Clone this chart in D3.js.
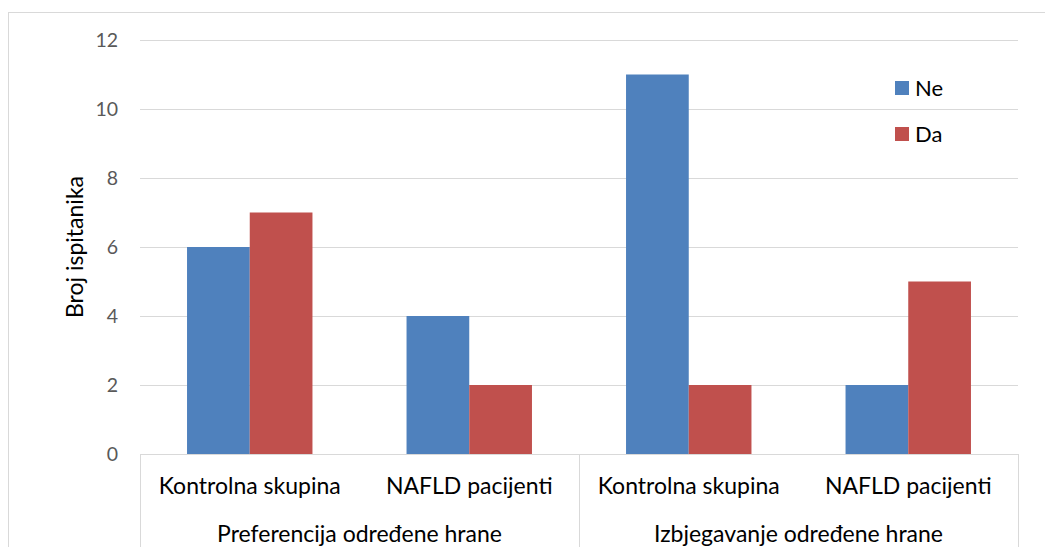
<!DOCTYPE html>
<html><head><meta charset="utf-8">
<script src="https://cdn.jsdelivr.net/npm/d3@7"></script>
<style>body{margin:0;background:#fff;} text{font-family:Lato,"Open Sans",sans-serif;}</style>
</head><body>
<svg id="c" width="1045" height="547"></svg>
<script>
const groups = ["Preferencija određene hrane", "Izbjegavanje određene hrane"];
const subcategories = ["Kontrolna skupina", "NAFLD pacijenti"];
const seriesNames = ["Ne", "Da"];
const neValues = [6, 4, 11, 2];
const daValues = [7, 2, 2, 5];
const yTicks = [0, 2, 4, 6, 8, 10, 12];
const yTitle = "Broj ispitanika";
const colors = ["#4F81BD", "#C0504D"];

const svg = d3.select("#c");
const L = 140, R = 1018, T = 40, B = 454;
const cats = [];
groups.forEach((g, gi) => subcategories.forEach((s, si) => cats.push({g, s, key: gi + "-" + si})));
const data = cats.map((c, i) => ({...c, vals: [neValues[i], daValues[i]]}));

const x = d3.scaleBand().domain(cats.map(c => c.key)).range([L, R]);
const bw = x.bandwidth() / 3.5;
const xs = d3.scaleBand().domain(seriesNames).range([0, 2 * bw]);
const y = d3.scaleLinear().domain([0, 12]).range([B, T]);

// outer border
svg.append("rect").attr("x", 8.5).attr("y", 12.5).attr("width", 1045).attr("height", 600)
  .attr("fill", "none").attr("stroke", "#D9D9D9").attr("stroke-width", 1);

// gridlines
svg.append("g").selectAll("line").data(yTicks.filter(t => t > 0)).join("line")
  .attr("x1", L).attr("x2", R).attr("y1", d => Math.round(y(d)) + 0.5).attr("y2", d => Math.round(y(d)) + 0.5)
  .attr("stroke", "#D9D9D9").attr("stroke-width", 1);

// y axis labels
const ya = svg.append("g").attr("transform", `translate(${L},0)`)
  .call(d3.axisLeft(y).tickValues(yTicks).tickSize(0).tickPadding(22));
ya.select(".domain").remove();
ya.selectAll("text").attr("fill", "#595959").style("font-size", "19.5px").style("font-family", "Lato, 'Open Sans', sans-serif");

// bars
const gBars = svg.append("g");
data.forEach(d => {
  const x0 = x(d.key) + (x.bandwidth() - 2 * bw) / 2;
  d.vals.forEach((v, i) => {
    gBars.append("rect").attr("x", x0 + xs(seriesNames[i])).attr("width", xs.bandwidth())
      .attr("y", y(v)).attr("height", y(0) - y(v)).attr("fill", colors[i]);
  });
});

// x axis baseline and separators
const axisCol = "#D9D9D9";
svg.append("line").attr("x1", L).attr("x2", R).attr("y1", B + 0.5).attr("y2", B + 0.5).attr("stroke", axisCol);
const gw = (R - L) / groups.length;
[0, 1, 2].forEach(i => {
  const xx = Math.round(L + i * gw) + 0.5;
  svg.append("line").attr("x1", xx).attr("x2", xx).attr("y1", B).attr("y2", 547).attr("stroke", axisCol);
});

// subcategory labels
svg.append("g").selectAll("text").data(cats).join("text")
  .attr("x", d => x(d.key) + x.bandwidth() / 2).attr("y", 494)
  .attr("text-anchor", "middle").attr("fill", "#000").style("font-size", "23px").text(d => d.s);

// group labels
svg.append("g").selectAll("text").data(groups).join("text")
  .attr("x", (d, i) => L + gw * (i + 0.5)).attr("y", 542)
  .attr("text-anchor", "middle").attr("fill", "#000").style("font-size", "23px").text(d => d);

// y title
svg.append("text").attr("transform", `translate(83,${(T + B) / 2}) rotate(-90)`)
  .attr("text-anchor", "middle").attr("fill", "#000").style("font-size", "23px").text(yTitle);

// legend
const lg = svg.append("g");
seriesNames.forEach((s, i) => {
  const yy = 88 + i * 46;
  lg.append("rect").attr("x", 895).attr("y", yy - 7).attr("width", 14).attr("height", 14).attr("fill", colors[i]);
  lg.append("text").attr("x", 915).attr("y", yy).attr("dy", "0.35em").attr("fill", "#000").style("font-size", "22px").text(s);
});
</script>
</body></html>
